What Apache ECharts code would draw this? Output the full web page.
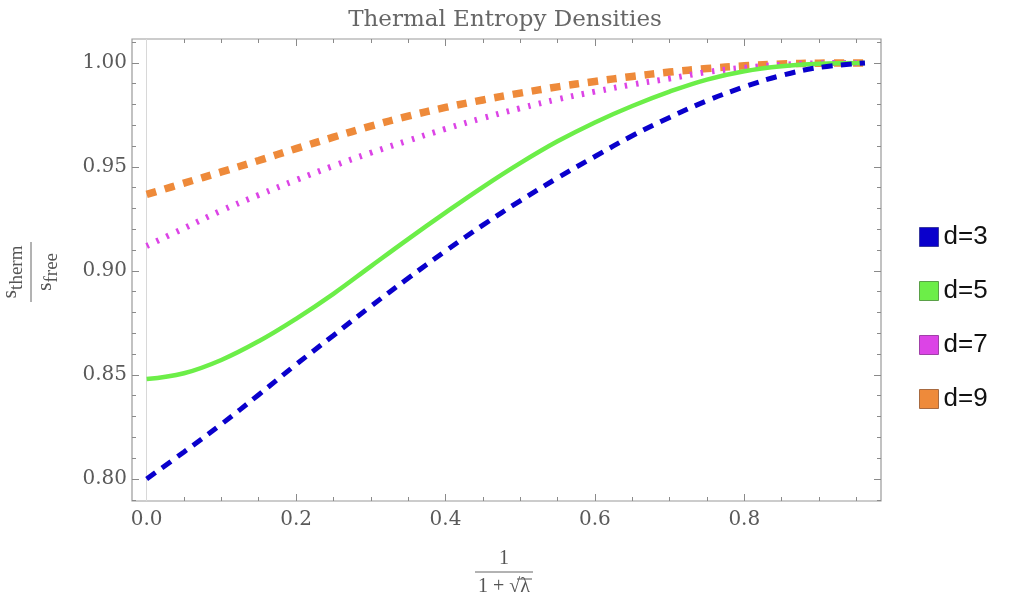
<!DOCTYPE html>
<html>
<head>
<meta charset="utf-8">
<script src="https://cdn.jsdelivr.net/npm/echarts@6/dist/echarts.min.js"></script>
<style>html,body{margin:0;padding:0;background:#fff}#c{width:1010px;height:601px}</style>
</head>
<body>
<div id="c"></div>
<script>
// ---- data ----
var seriesNames = ['d=3', 'd=5', 'd=7', 'd=9'];

var xValues = [0, 0.05, 0.1, 0.15, 0.2, 0.25, 0.3, 0.35, 0.4, 0.45, 0.5, 0.55, 0.6, 0.65, 0.7, 0.75, 0.8, 0.85, 0.9, 0.9615];

var d3Values = [0.800, 0.8130, 0.8263, 0.8405, 0.8550, 0.8690, 0.8830, 0.8965, 0.9096, 0.9220, 0.9337, 0.9447, 0.9550, 0.9650, 0.9738, 0.9818, 0.9885, 0.9940, 0.9978, 1.0];
var d5Values = [0.848, 0.8508, 0.8572, 0.8662, 0.8770, 0.8890, 0.9022, 0.9153, 0.9280, 0.9403, 0.9518, 0.9623, 0.9714, 0.9793, 0.9862, 0.9920, 0.9960, 0.9984, 0.9996, 1.0];
var d7Values = [0.9120, 0.9205, 0.9290, 0.9365, 0.9437, 0.9505, 0.9568, 0.9627, 0.9683, 0.9735, 0.9782, 0.9825, 0.9862, 0.9896, 0.9925, 0.9956, 0.9977, 0.9991, 0.9998, 1.0];
var d9Values = [0.9368, 0.9422, 0.9476, 0.9531, 0.9588, 0.9643, 0.9696, 0.9744, 0.9786, 0.9822, 0.9855, 0.9885, 0.9911, 0.9935, 0.9956, 0.9973, 0.9986, 0.9995, 0.9999, 1.0];

var xTicks = [0, 0.2, 0.4, 0.6, 0.8];
var xMinorTicks = [0.05, 0.1, 0.15, 0.25, 0.3, 0.35, 0.45, 0.5, 0.55, 0.65, 0.7, 0.75, 0.85, 0.9, 0.95];
var yTicks = [0.80, 0.85, 0.90, 0.95, 1.00];
var yMinorTicks = [0.79, 0.81, 0.82, 0.83, 0.84, 0.86, 0.87, 0.88, 0.89, 0.91, 0.92, 0.93, 0.94, 0.96, 0.97, 0.98, 0.99, 1.01];

// ---- chart ----
function pairs(xs, ys) { return xs.map(function (x, i) { return [x, ys[i]]; }); }

var colors = ['#0a00cc', '#6cee48', '#dc44e6', '#ee8a3a'];
var borders = ['#3a3aa0', '#5aa048', '#a040a8', '#a86a40'];
var serif = 'DejaVu Serif';
var mathSerif = 'Liberation Serif';
var tickColor = '#8a8a8a';
var labelColor = '#5a5a5a';

function xAx(pos, ticks, len, labels) {
  return {
    type: 'value', min: -0.0196, max: 0.983, position: pos,
    axisLine: { show: false, onZero: false },
    splitLine: { show: false },
    axisTick: { show: true, inside: true, length: len, customValues: ticks, lineStyle: { color: tickColor, width: 1 } },
    axisLabel: labels ? {
      show: true, customValues: ticks, margin: 9,
      fontFamily: serif, fontSize: 20, color: labelColor,
      formatter: function (v) { return v.toFixed(1); }
    } : { show: false }
  };
}
function yAx(pos, ticks, len, labels) {
  return {
    type: 'value', min: 0.7894, max: 1.0115, position: pos,
    axisLine: { show: false, onZero: false },
    splitLine: { show: false },
    axisTick: { show: true, inside: true, length: len, customValues: ticks, lineStyle: { color: tickColor, width: 1 } },
    axisLabel: labels ? {
      show: true, customValues: ticks, margin: 5,
      fontFamily: serif, fontSize: 20, color: labelColor,
      formatter: function (v) { return v.toFixed(2); }
    } : { show: false }
  };
}

var dataSets = [pairs(xValues, d3Values), pairs(xValues, d5Values), pairs(xValues, d7Values), pairs(xValues, d9Values)];
var styles = [
  { width: 5, type: [11, 8], cap: 'butt' },
  { width: 4.5, type: 'solid' },
  { width: 6, type: [2.5, 8.5], cap: 'butt' },
  { width: 7.5, type: [10, 9], cap: 'butt' }
];

var series = dataSets.map(function (d, i) {
  var s = {
    name: seriesNames[i], type: 'line', data: d, smooth: 0.4,
    showSymbol: false, symbol: 'none', xAxisIndex: 0, yAxisIndex: 0,
    itemStyle: { color: colors[i] },
    lineStyle: Object.assign({ color: colors[i] }, styles[i]),
    z: 10 - i, silent: true, animation: false
  };
  if (i === 0) {
    s.markLine = {
      silent: true, symbol: 'none', label: { show: false },
      lineStyle: { color: '#d8d8d8', width: 1, type: 'solid' },
      data: [{ xAxis: 0 }], animation: false, z: 1
    };
  }
  return s;
});

var chart = echarts.init(document.getElementById('c'));
chart.setOption({
  animation: false,
  backgroundColor: '#fff',
  title: {
    text: 'Thermal Entropy Densities', left: 'center', top: 4,
    textStyle: { fontFamily: serif, fontSize: 23, fontWeight: 'normal', color: '#666' }
  },
  grid: { left: 132, right: 129, top: 39, bottom: 100, show: true, borderColor: '#9a9a9a', borderWidth: 1.2, containLabel: false },
  xAxis: [xAx('bottom', xTicks, 7, true), xAx('bottom', xMinorTicks, 4, false), xAx('top', xTicks, 7, false), xAx('top', xMinorTicks, 4, false)],
  yAxis: [yAx('left', yTicks, 7, true), yAx('left', yMinorTicks, 4, false), yAx('right', yTicks, 7, false), yAx('right', yMinorTicks, 4, false)],
  legend: {
    orient: 'vertical', left: 914, top: 219, icon: 'rect',
    itemWidth: 19, itemHeight: 19, itemGap: 28,
    textStyle: { fontFamily: 'Liberation Sans', fontSize: 26, lineHeight: 26, color: '#111' },
    data: seriesNames.map(function (n, i) {
      return { name: n, itemStyle: { color: colors[i], borderColor: borders[i], borderWidth: 1 }, lineStyle: { width: 0 } };
    })
  },
  graphic: [
    {
      type: 'group', x: 31, y: 272, rotation: Math.PI / 2,
      children: [
        { type: 'text', x: 0, y: -4, style: { text: '{a|s}{b|therm}', align: 'center', verticalAlign: 'bottom', fill: '#555',
          rich: { a: { fontFamily: mathSerif, fontSize: 22, lineHeight: 28, verticalAlign: 'top', fill: '#555' },
                  b: { fontFamily: mathSerif, fontSize: 19, lineHeight: 28, verticalAlign: 'bottom', fill: '#555' } } } },
        { type: 'line', shape: { x1: -30, y1: 0, x2: 30, y2: 0 }, style: { stroke: '#666', lineWidth: 1 } },
        { type: 'text', x: 0, y: 3, style: { text: '{a|s}{b|free}', align: 'center', verticalAlign: 'top', fill: '#555',
          rich: { a: { fontFamily: mathSerif, fontSize: 22, lineHeight: 28, verticalAlign: 'top', fill: '#555' },
                  b: { fontFamily: mathSerif, fontSize: 19, lineHeight: 28, verticalAlign: 'bottom', fill: '#555' } } } }
      ]
    },
    {
      type: 'group', x: 504, y: 572,
      children: [
        { type: 'text', x: 0, y: -3, style: { text: '1', align: 'center', verticalAlign: 'bottom', fontFamily: mathSerif, fontSize: 20, fill: '#555' } },
        { type: 'line', shape: { x1: -29, y1: 0, x2: 29, y2: 0 }, style: { stroke: '#666', lineWidth: 1 } },
        { type: 'text', x: 0, y: 5, style: { text: '1 + \u221A\u03BB', align: 'center', verticalAlign: 'top', fontFamily: mathSerif, fontSize: 20, fill: '#555' } },
        { type: 'line', shape: { x1: 13, y1: 7, x2: 28, y2: 7 }, style: { stroke: '#555', lineWidth: 1 } }
      ]
    }
  ],
  series: series
});
</script>
</body>
</html>
